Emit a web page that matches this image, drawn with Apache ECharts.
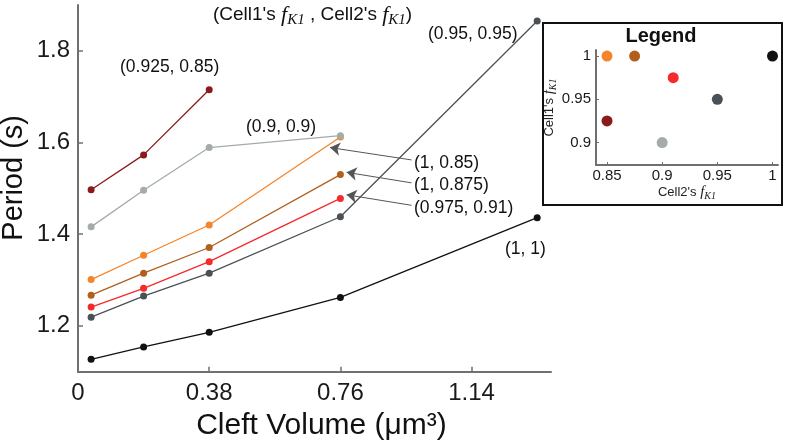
<!DOCTYPE html>
<html>
<head>
<meta charset="utf-8">
<script src="https://cdn.jsdelivr.net/npm/echarts@6/dist/echarts.min.js"></script>
<style>html,body{margin:0;padding:0;background:#fff;}#c{width:786px;height:442px;}</style>
</head>
<body>
<div id="c"></div>
<script>
// ---- data ----
var cleftVolume = [0.038, 0.19, 0.38, 0.76, 1.33];
var xTicks = [0, 0.38, 0.76, 1.14];
var yTicks = [1.2, 1.4, 1.6, 1.8];
var seriesNames = ['(0.925, 0.85)', '(1, 0.85)', '(0.9, 0.9)', '(1, 0.875)', '(0.975, 0.91)', '(0.95, 0.95)', '(1, 1)'];
var period_0925_085 = [1.497, 1.573, 1.715];
var period_1_085 = [1.301, 1.354, 1.420, 1.612];
var period_09_09 = [1.416, 1.496, 1.589, 1.615];
var period_1_0875 = [1.267, 1.315, 1.371, 1.530];
var period_0975_091 = [1.241, 1.282, 1.340, 1.478];
var period_095_095 = [1.219, 1.265, 1.315, 1.438, 1.865];
var period_1_1 = [1.127, 1.154, 1.186, 1.262, 1.436];
var cell1fK1 = [0.925, 1, 0.9, 1, 0.975, 0.95, 1];
var cell2fK1 = [0.85, 0.85, 0.9, 0.875, 0.91, 0.95, 1];
var legendXTicks = [0.85, 0.9, 0.95, 1];
var legendYTicks = [0.9, 0.95, 1];
var colors = ['#8b1a1a', '#f5852a', '#a3abab', '#b0601c', '#f52a2a', '#4a5156', '#111111'];
// arrows: [fromX, fromY, toX, toY] in data units
var arrows = [[0.966, 1.562, 0.730, 1.589], [0.966, 1.512, 0.778, 1.535], [0.966, 1.463, 0.778, 1.486]];

var periods = [period_0925_085, period_1_085, period_09_09, period_1_0875, period_0975_091, period_095_095, period_1_1];

var SANS = '"Liberation Sans", Arial, Helvetica, sans-serif';
var SERIF = '"Liberation Serif", "Times New Roman", serif';
var AX = '#707070';

var lineSeries = periods.map(function (vals, i) {
  return {
    name: seriesNames[i], type: 'line', xAxisIndex: 0, yAxisIndex: 0,
    data: vals.map(function (v, j) { return [cleftVolume[j], v]; }),
    symbol: 'circle', symbolSize: 7, showSymbol: true,
    lineStyle: { color: colors[i], width: 1.3 },
    itemStyle: { color: colors[i], opacity: 1 },
    z: 3
  };
});

lineSeries.push({
  type: 'line', xAxisIndex: 0, yAxisIndex: 0, data: [], silent: true,
  markLine: {
    silent: true, symbol: ['none', 'arrow'], symbolSize: 10,
    label: { show: false },
    emphasis: { disabled: true },
    lineStyle: { color: '#555', width: 1, type: 'solid' },
    itemStyle: { color: '#222' },
    data: arrows.map(function (a) { return [{ coord: [a[0], a[1]] }, { coord: [a[2], a[3]] }]; })
  }
});

lineSeries.push({
  type: 'scatter', xAxisIndex: 1, yAxisIndex: 1, symbolSize: 11,
  data: cell1fK1.map(function (c1, i) {
    return { value: [cell2fK1[i], c1], itemStyle: { color: colors[i], opacity: 1 } };
  }),
  z: 5
});

function fmt(v) { return String(+v.toFixed(3)); }

var fk1Rich = {
  n: { fontFamily: SANS, fontSize: 13, color: '#222' },
  f: { fontFamily: SERIF, fontStyle: 'italic', fontSize: 15, color: '#222' },
  s: { fontFamily: SERIF, fontStyle: 'italic', fontSize: 10, color: '#222', verticalAlign: 'bottom', padding: [7, 0, 0, 0] }
};

var option = {
  backgroundColor: '#fff',
  animation: false,
  grid: [
    { left: 78, top: 5, width: 473, height: 366.7, outerBoundsMode: 'none', containLabel: false },
    { left: 596, top: 50, width: 182, height: 115, z: 4, outerBoundsMode: 'none', containLabel: false }
  ],
  xAxis: [
    {
      type: 'value', gridIndex: 0, min: 0, max: 1.37,
      name: 'Cleft Volume (μm³)', nameLocation: 'middle', nameGap: 31,
      nameTextStyle: { fontFamily: SANS, fontSize: 30, color: '#111', padding: [0, 0, 0, 14] },
      axisLine: { show: true, lineStyle: { color: AX, width: 2 } },
      axisTick: { show: true, inside: true, length: 5, customValues: xTicks, lineStyle: { color: AX, width: 1.5 } },
      axisLabel: { customValues: xTicks, formatter: fmt, margin: 10, fontFamily: SANS, fontSize: 24, color: '#1a1a1a' },
      splitLine: { show: false }
    },
    {
      type: 'value', gridIndex: 1, min: 0.84, max: 1.005,
      name: "{n|Cell2's }{f|f}{s|K1}", nameLocation: 'middle', nameGap: 19,
      nameTextStyle: { rich: fk1Rich },
      axisLine: { show: true, lineStyle: { color: AX, width: 2 } },
      axisTick: { show: true, inside: true, length: 3, customValues: legendXTicks, lineStyle: { color: AX } },
      axisLabel: { customValues: legendXTicks, formatter: fmt, margin: 3, fontFamily: SANS, fontSize: 15, color: '#1a1a1a' },
      splitLine: { show: false }
    }
  ],
  yAxis: [
    {
      type: 'value', gridIndex: 0, min: 1.1, max: 1.9,
      name: 'Period (s)', nameLocation: 'middle', nameGap: 50, nameMoveOverlap: false,
      nameTextStyle: { fontFamily: SANS, fontSize: 29, color: '#111', padding: [0, 0, 0, 21] },
      axisLine: { show: true, lineStyle: { color: AX, width: 2 } },
      axisTick: { show: true, inside: true, length: 5, customValues: yTicks, lineStyle: { color: AX, width: 1.5 } },
      axisLabel: { customValues: yTicks, formatter: fmt, margin: 8, fontFamily: SANS, fontSize: 24, color: '#1a1a1a' },
      splitLine: { show: false }
    },
    {
      type: 'value', gridIndex: 1, min: 0.874, max: 1.007,
      name: "{n|Cell1's }{f|f}{s|K1}", nameLocation: 'middle', nameGap: 33,
      nameTextStyle: { rich: fk1Rich },
      axisLine: { show: true, lineStyle: { color: AX, width: 2 } },
      axisTick: { show: true, inside: true, length: 3, customValues: legendYTicks, lineStyle: { color: AX } },
      axisLabel: { customValues: legendYTicks, formatter: fmt, margin: 5, fontFamily: SANS, fontSize: 15, color: '#1a1a1a' },
      splitLine: { show: false }
    }
  ],
  graphic: [
    { type: 'rect', z: -10, shape: { x: 543, y: 23, width: 239, height: 182 }, style: { fill: '#fff', stroke: '#111', lineWidth: 2 } },
    { type: 'text', z: 10, x: 661, y: 36, style: { text: 'Legend', fontFamily: SANS, fontWeight: 'bold', fontSize: 20, fill: '#111', align: 'center', verticalAlign: 'middle' } },
    { type: 'text', z: 10, x: 213, y: 15, style: {
        text: "{n|(Cell1's }{f|f}{s|K1}{n| , Cell2's }{f|f}{s|K1}{n|)}", verticalAlign: 'middle',
        rich: {
          n: { fontFamily: SANS, fontSize: 19, fill: '#111' },
          f: { fontFamily: SERIF, fontStyle: 'italic', fontSize: 22, fill: '#111' },
          s: { fontFamily: SERIF, fontStyle: 'italic', fontSize: 15, fill: '#111', verticalAlign: 'bottom', padding: [10, 0, 0, 0] }
        } } },
    { type: 'text', x: 120, y: 67, style: { text: seriesNames[0], fontFamily: SANS, fontSize: 17.5, fill: '#111', verticalAlign: 'middle' } },
    { type: 'text', x: 246, y: 127, style: { text: seriesNames[2], fontFamily: SANS, fontSize: 17.5, fill: '#111', verticalAlign: 'middle' } },
    { type: 'text', x: 428, y: 34, style: { text: seriesNames[5], fontFamily: SANS, fontSize: 17.5, fill: '#111', verticalAlign: 'middle' } },
    { type: 'text', x: 414, y: 163, style: { text: seriesNames[1], fontFamily: SANS, fontSize: 17.5, fill: '#111', verticalAlign: 'middle' } },
    { type: 'text', x: 414, y: 185, style: { text: seriesNames[3], fontFamily: SANS, fontSize: 17.5, fill: '#111', verticalAlign: 'middle' } },
    { type: 'text', x: 414, y: 208, style: { text: seriesNames[4], fontFamily: SANS, fontSize: 17.5, fill: '#111', verticalAlign: 'middle' } },
    { type: 'text', x: 505, y: 249, style: { text: seriesNames[6], fontFamily: SANS, fontSize: 17.5, fill: '#111', verticalAlign: 'middle' } }
  ],
  series: lineSeries
};

var chart = echarts.init(document.getElementById('c'), null, { renderer: 'canvas' });
chart.setOption(option);
</script>
</body>
</html>
